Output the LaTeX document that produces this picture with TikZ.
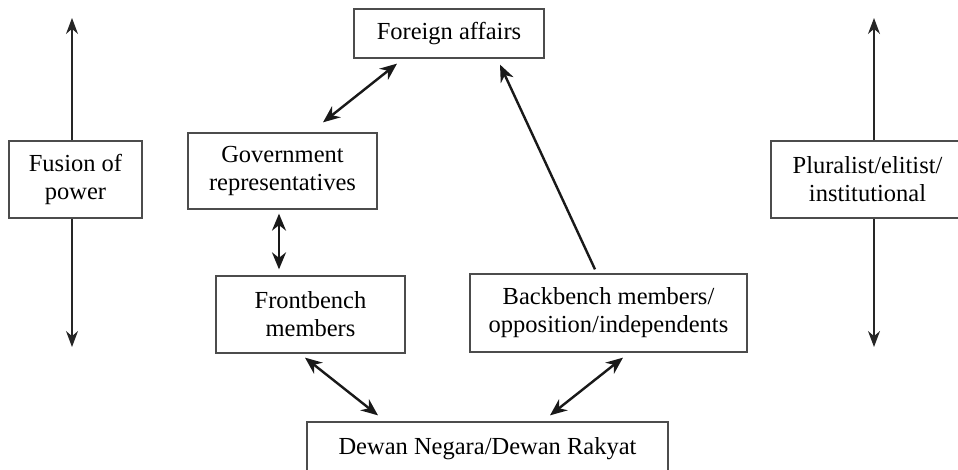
\documentclass[tikz,border=0pt]{standalone}
\usepackage{fontspec}
\setmainfont{Liberation Serif}
\usetikzlibrary{arrows.meta}

\begin{document}
\begin{tikzpicture}[x=1pt,y=-1pt,line width=0.3mm]
\tikzstyle{every node}=[font=\fontsize{24.5}{28}\selectfont]
\tikzstyle{box}=[draw=black!70,line width=0.45mm,align=center,inner sep=0pt]
\tikzstyle{dbl}=[{Stealth[length=17pt,width=14pt]}-{Stealth[length=17pt,width=14pt]},line width=0.85mm,black!90]
\tikzstyle{one}=[-{Stealth[length=17pt,width=14pt]},line width=0.85mm,black!90]
\tikzstyle{vert}=[-{Stealth[length=16pt,width=12pt]},line width=0.45mm,black!85]
\useasboundingbox (0,0) rectangle (958,470);
% boxes
\node[box,minimum width=190pt,minimum height=49pt] (foreign) at (449,33.5) {Foreign affairs};
\node[box,minimum width=133pt,minimum height=77pt] (fusion) at (75.5,179.5) {Fusion of\\power};
\node[box,minimum width=193pt,minimum height=77pt] (plural) at (867.5,179.5) {Pluralist/elitist/\\institutional};
\node[box,minimum width=189pt,minimum height=76pt] (gov) at (282.5,171) {Government\\representatives};
\node[box,minimum width=189pt,minimum height=77pt] (front) at (310.5,314.5) {Frontbench\\members};
\node[box,minimum width=277pt,minimum height=78pt] (back) at (608.5,313) {Backbench members/\\opposition/independents};
\node[box,minimum width=361pt,minimum height=54pt] (dewan) at (487.5,449) {Dewan Negara/Dewan Rakyat};
% free ends of the side arrows
\coordinate (fusionup) at (72,18);
\coordinate (fusiondown) at (72,347);
\coordinate (pluralup) at (874,18);
\coordinate (pluraldown) at (874,347);
% side arrows
\draw[vert] ([xshift=-3.5pt]fusion.north) -- (fusionup);
\draw[vert] ([xshift=-3.5pt]fusion.south) -- (fusiondown);
\draw[vert] ([xshift=6.5pt]plural.north) -- (pluralup);
\draw[vert] ([xshift=6.5pt]plural.south) -- (pluraldown);
% links
\draw[dbl] ([xshift=-52pt,yshift=-5pt]foreign.south) -- ([xshift=40.5pt,yshift=10pt]gov.north);
\draw[dbl] ([xshift=-3.5pt,yshift=-4pt]gov.south) -- ([xshift=-31.5pt,yshift=6pt]front.north);
\draw[one] ([xshift=-13.5pt,yshift=4pt]back.north) -- ([xshift=51pt,yshift=-6pt]foreign.south);
\draw[dbl] ([xshift=-5.5pt,yshift=-4pt]front.south) -- ([xshift=-109.5pt,yshift=6pt]dewan.north);
\draw[dbl] ([xshift=14.5pt,yshift=-5pt]back.south) -- ([xshift=62.5pt,yshift=6pt]dewan.north);
\end{tikzpicture}
\end{document}
